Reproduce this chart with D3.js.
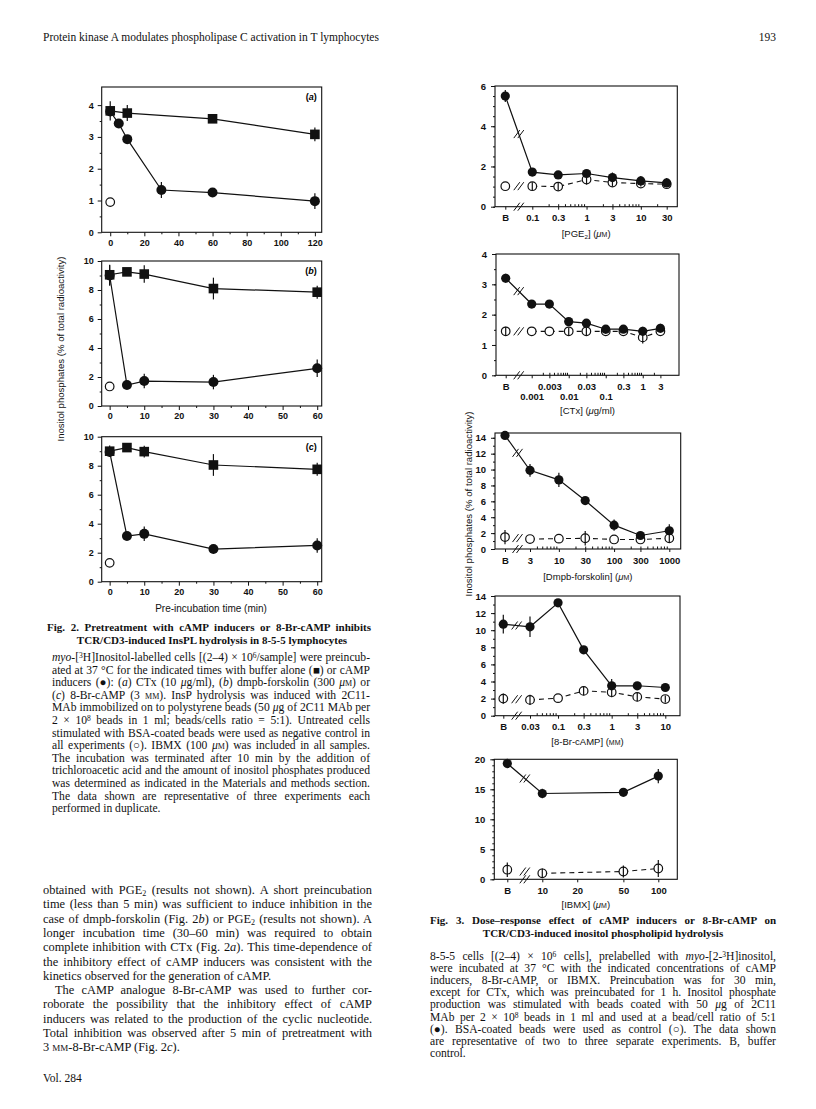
<!DOCTYPE html>
<html>
<head>
<meta charset="utf-8">
<script src="https://cdnjs.cloudflare.com/ajax/libs/d3/7.8.5/d3.min.js"></script>
<style>
  body { margin: 0; background: #fff; }
  svg { display: block; }
</style>
</head>
<body>
<svg id="page" width="816" height="1109"></svg>
<script>
// ---- Fig. 2 data (pre-incubation time, min) ----
const a_bufT = [0, 10, 60, 120];
const a_bufV = [3.82, 3.75, 3.57, 3.08];
const a_bufE = [0.3, 0.25, 0, 0.22];
const a_indT = [0, 5, 10, 30, 60, 120];
const a_indV = [3.8, 3.42, 2.93, 1.33, 1.25, 0.98];
const a_indE = [0, 0, 0, 0.25, 0, 0.25];
const a_ctlV = [0.95];

const b_T = [0, 5, 10, 30, 60];
const b_bufV = [9.05, 9.25, 9.1, 8.1, 7.85];
const b_bufE = [0.7, 0, 0.6, 0.75, 0.45];
const b_indV = [9.0, 1.45, 1.72, 1.65, 2.6];
const b_indE = [0.7, 0, 0.5, 0.5, 0.6];
const b_ctlV = [1.35];

const c_T = [0, 5, 10, 30, 60];
const c_bufV = [9.0, 9.25, 8.97, 8.05, 7.75];
const c_bufE = [0.4, 0, 0.4, 0.75, 0.45];
const c_indV = [8.95, 3.15, 3.3, 2.25, 2.5];
const c_indE = [0, 0, 0.5, 0.3, 0.5];
const c_ctlV = [1.3];

// ---- Fig. 3 data (B = buffer control) ----
const pgeDose = ["B", 0.1, 0.3, 1, 3, 10, 30];
const pgeStim = [5.5, 1.72, 1.58, 1.65, 1.45, 1.28, 1.18];
const pgeStimE = [0.3, 0, 0, 0.1, 0.25, 0.25, 0.25];
const pgeCtl = [1.02, 1.02, 1.0, 1.35, 1.2, 1.15, 1.12];
const pgeCtlE = [0, 0.2, 0.2, 0.25, 0.2, 0.15, 0];
const pgeTicks = ["B", 0.1, 0.3, 1, 3, 10, 30];
const pgeLabels = ["B", "0.1", "0.3", "1", "3", "10", "30"];

const ctxDose = ["B", 0.001, 0.003, 0.01, 0.03, 0.1, 0.3, 1, 3];
const ctxStim = [3.2, 2.35, 2.35, 1.77, 1.72, 1.52, 1.52, 1.45, 1.55];
const ctxStimE = [0.15, 0.1, 0.1, 0.1, 0.08, 0.1, 0.1, 0.15, 0.15];
const ctxCtl = [1.45, 1.45, 1.45, 1.45, 1.45, 1.45, 1.45, 1.25, 1.45];
const ctxCtlE = [0.15, 0, 0, 0.12, 0.12, 0.08, 0, 0.2, 0];
const ctxTicks = ["B", 0.001, 0.003, 0.01, 0.03, 0.1, 0.3, 1, 3];
const ctxLabels = ["B", "0.001", "0.003", "0.01", "0.03", "0.1", "0.3", "1", "3"];
const ctxRows = [0, 1, 0, 1, 0, 1, 0, 0, 0];

const dmpDose = ["B", 3, 10, 30, 100, 300, 1000];
const dmpStim = [14.3, 9.9, 8.7, 6.1, 3.0, 1.7, 2.3];
const dmpStimE = [0, 0.8, 0.9, 0, 0.7, 0, 0.8];
const dmpCtl = [1.5, 1.25, 1.3, 1.35, 1.2, 1.2, 1.35];
const dmpCtlE = [0.9, 0, 0, 0.9, 0, 0, 0.5];
const dmpTicks = ["B", 3, 10, 30, 100, 300, 1000];
const dmpLabels = ["B", "3", "10", "30", "100", "300", "1000"];

const brDose = ["B", 0.03, 0.1, 0.3, 1, 3, 10];
const brStim = [10.7, 10.4, 13.2, 7.7, 3.5, 3.5, 3.3];
const brStimE = [1.1, 1.2, 0, 0.4, 0.8, 0, 0];
const brCtl = [2.0, 1.85, 2.05, 2.9, 2.75, 2.2, 1.95];
const brCtlE = [0.6, 0.6, 0, 0.5, 0.6, 0.5, 0.4];
const brTicks = ["B", 0.03, 0.1, 0.3, 1, 3, 10];
const brLabels = ["B", "0.03", "0.1", "0.3", "1", "3", "10"];

const ibDose = ["B", 10, 50, 100];
const ibStim = [19.3, 14.3, 14.5, 17.2];
const ibStimE = [0.8, 0.8, 0, 1.2];
const ibCtl = [1.6, 1.0, 1.3, 1.8];
const ibCtlE = [1.2, 0.8, 1.0, 1.4];
const ibTicks = ["B", 10, 20, 50, 100];
const ibLabels = ["B", "10", "20", "50", "100"];

// ---- page text ----
const fig2Caption = [
  "*myo*-[^3^H]Inositol-labelled cells [(2–4) × 10^6^/sample] were preincub-",
  "ated at 37 °C for the indicated times with buffer alone (■) or cAMP",
  "inducers (●): (*a*) CTx (10 *μ*g/ml), (*b*) dmpb-forskolin (300 *μ*%m%) or",
  "(*c*) 8-Br-cAMP (3 %mm%). InsP hydrolysis was induced with 2C11-",
  "MAb immobilized on to polystyrene beads (50 *μ*g of 2C11 MAb per",
  "2 × 10^8^ beads in 1 ml; beads/cells ratio = 5:1). Untreated cells",
  "stimulated with BSA-coated beads were used as negative control in",
  "all experiments (○). IBMX (100 *μ*%m%) was included in all samples.",
  "The incubation was terminated after 10 min by the addition of",
  "trichloroacetic acid and the amount of inositol phosphates produced",
  "was determined as indicated in the Materials and methods section.",
  "The data shown are representative of three experiments each",
  "performed in duplicate."
];
const fig3Caption = [
  "8-5-5 cells [(2–4) × 10^6^ cells], prelabelled with *myo*-[2-^3^H]inositol,",
  "were incubated at 37 °C with the indicated concentrations of cAMP",
  "inducers, 8-Br-cAMP, or IBMX. Preincubation was for 30 min,",
  "except for CTx, which was preincubated for 1 h. Inositol phosphate",
  "production was stimulated with beads coated with 50 *μ*g of 2C11",
  "MAb per 2 × 10^8^ beads in 1 ml and used at a bead/cell ratio of 5:1",
  "(●). BSA-coated beads were used as control (○). The data shown",
  "are representative of two to three separate experiments. B, buffer",
  "control."
];
const bodyPara1 = [
  "obtained with PGE~2~ (results not shown). A short preincubation",
  "time (less than 5 min) was sufficient to induce inhibition in the",
  "case of dmpb-forskolin (Fig. 2*b*) or PGE~2~ (results not shown). A",
  "longer incubation time (30–60 min) was required to obtain",
  "complete inhibition with CTx (Fig. 2*a*). This time-dependence of",
  "the inhibitory effect of cAMP inducers was consistent with the",
  "kinetics observed for the generation of cAMP."
];
const bodyPara2 = [
  "The cAMP analogue 8-Br-cAMP was used to further cor-",
  "roborate the possibility that the inhibitory effect of cAMP",
  "inducers was related to the production of the cyclic nucleotide.",
  "Total inhibition was observed after 5 min of pretreatment with",
  "3 %mm%-8-Br-cAMP (Fig. 2*c*)."
];

const serif = "'Liberation Serif','Times New Roman',serif";
const sans = "'Liberation Sans',Arial,Helvetica,sans-serif";
const svg = d3.select("#page");
const intFmt = d3.format("d");

// small markup: *italic*  ^sup^  ~sub~  %smallcaps%
function richText(g, x, y, str, o = {}) {
  const t = g.append("text").attr("x", x).attr("y", y)
    .attr("font-family", o.family || serif)
    .attr("font-size", o.size || 11)
    .attr("fill", "#111");
  if (o.weight) t.attr("font-weight", o.weight);
  if (o.anchor) t.attr("text-anchor", o.anchor);
  str.split(/(\*[^*]+\*|\^[^^]+\^|~[^~]+~|%[^%]+%)/).forEach(part => {
    if (!part) return;
    const s = t.append("tspan"), c = part[0], inner = part.slice(1, -1);
    if (c === "*") s.attr("font-style", "italic").text(inner);
    else if (c === "^") s.attr("baseline-shift", "3.5").attr("font-size", "65%").text(inner);
    else if (c === "~") s.attr("baseline-shift", "-2").attr("font-size", "65%").text(inner);
    else if (c === "%") s.style("font-variant", "small-caps").text(inner);
    else s.text(part);
  });
  if (o.width) {
    // justify by widening the word gaps
    const natural = t.node().getComputedTextLength();
    const gaps = (t.text().match(/ /g) || []).length;
    if (gaps) t.attr("word-spacing", ((o.width - natural) / gaps).toFixed(3));
  }
  return t;
}

function paragraph(lines, x, y0, lh, width, o, indent = 0) {
  lines.forEach((l, i) => {
    const ind = i === 0 ? indent : 0;
    const last = i === lines.length - 1;
    richText(svg, x + ind, y0 + i * lh, l, Object.assign({}, o, { width: last ? null : width - ind }));
  });
}

function breakMark(g, cx, cy) {
  [-2, 2].forEach(off => {
    g.append("line")
      .attr("x1", cx + off - 3).attr("y1", cy + 4)
      .attr("x2", cx + off + 3).attr("y2", cy - 4)
      .attr("stroke", "#111").attr("stroke-width", 1);
  });
}

function styleAxis(sel, size) {
  sel.select(".domain").remove();
  sel.selectAll("line").attr("stroke", "#111");
  sel.selectAll("text").attr("font-family", sans).attr("font-size", size)
    .attr("font-weight", "bold").attr("fill", "#111");
}

function errorBars(g, pts, x, y) {
  g.selectAll(null).data(pts.filter(d => d[2] > 0)).join("line")
    .attr("x1", d => x(d[0])).attr("x2", d => x(d[0]))
    .attr("y1", d => y(d[1] - d[2])).attr("y2", d => y(d[1] + d[2]))
    .attr("stroke", "#111").attr("stroke-width", 1.2);
}

// ---- Fig. 2 panels ----
function fig2Panel(p) {
  const g = svg.append("g");
  const x = d3.scaleLinear().domain(p.xDom).range([p.l, p.r]);
  const y = d3.scaleLinear().domain(p.yDom).range([p.b, p.t]);

  g.append("g").attr("transform", `translate(0,${p.b})`)
    .call(d3.axisBottom(x).tickValues(p.xTicks).tickSize(4).tickPadding(3).tickFormat(intFmt))
    .call(s => styleAxis(s, 9));
  g.append("g").attr("transform", `translate(0,${p.b})`)
    .call(d3.axisBottom(x).tickValues(p.xMinor).tickSize(2).tickFormat(""))
    .call(s => styleAxis(s, 9));
  g.append("g").attr("transform", `translate(${p.l},0)`)
    .call(d3.axisLeft(y).tickValues(p.yTicks).tickSize(4).tickPadding(4).tickFormat(intFmt))
    .call(s => styleAxis(s, 9));
  g.append("g").attr("transform", `translate(${p.l},0)`)
    .call(d3.axisLeft(y).tickValues(p.yMinor).tickSize(2).tickFormat(""))
    .call(s => styleAxis(s, 9));
  g.append("rect").attr("x", p.l).attr("y", p.t)
    .attr("width", p.r - p.l).attr("height", p.b - p.t)
    .attr("fill", "none").attr("stroke", "#111").attr("stroke-width", 1.1);

  const buf = d3.zip(p.bufT, p.bufV, p.bufE);
  const ind = d3.zip(p.indT, p.indV, p.indE);
  const line = d3.line().x(d => x(d[0])).y(d => y(d[1]));
  [buf, ind].forEach(s => g.append("path").attr("d", line(s))
    .attr("fill", "none").attr("stroke", "#111").attr("stroke-width", 1.2));
  errorBars(g, buf, x, y);
  errorBars(g, ind, x, y);
  g.selectAll(null).data(ind).join("circle")
    .attr("cx", d => x(d[0])).attr("cy", d => y(d[1])).attr("r", 5).attr("fill", "#111");
  g.selectAll(null).data(buf).join("rect")
    .attr("x", d => x(d[0]) - 4.8).attr("y", d => y(d[1]) - 4.8)
    .attr("width", 9.6).attr("height", 9.6).attr("fill", "#111");
  g.selectAll(null).data(p.ctlV).join("circle")
    .attr("cx", x(0)).attr("cy", d => y(d)).attr("r", 4.3)
    .attr("fill", "#fff").attr("stroke", "#111").attr("stroke-width", 1.2);

  g.append("text").attr("x", p.r - 5).attr("y", p.t + 13).attr("text-anchor", "end")
    .attr("font-family", sans).attr("font-size", 9).attr("font-weight", "bold")
    .html(`(<tspan font-style="italic">${p.label}</tspan>)`);
}

fig2Panel({ l: 101.7, r: 321.7, t: 87, b: 232.3, xDom: [-5, 124], yDom: [0, 4.57],
  xTicks: d3.range(0, 121, 20), xMinor: d3.range(10, 121, 20),
  yTicks: d3.range(0, 5, 1), yMinor: d3.range(0.5, 4.5, 1),
  bufT: a_bufT, bufV: a_bufV, bufE: a_bufE, indT: a_indT, indV: a_indV, indE: a_indE,
  ctlV: a_ctlV, label: "a" });
fig2Panel({ l: 101.7, r: 321.7, t: 261, b: 406, xDom: [-2.3, 61.3], yDom: [0, 10],
  xTicks: d3.range(0, 61, 10), xMinor: d3.range(5, 61, 10),
  yTicks: d3.range(0, 11, 2), yMinor: d3.range(1, 10, 2),
  bufT: b_T, bufV: b_bufV, bufE: b_bufE, indT: b_T, indV: b_indV, indE: b_indE,
  ctlV: b_ctlV, label: "b" });
fig2Panel({ l: 101.7, r: 321.7, t: 436.7, b: 581.7, xDom: [-2.3, 61.3], yDom: [0, 10],
  xTicks: d3.range(0, 61, 10), xMinor: d3.range(5, 61, 10),
  yTicks: d3.range(0, 11, 2), yMinor: d3.range(1, 10, 2),
  bufT: c_T, bufV: c_bufV, bufE: c_bufE, indT: c_T, indV: c_indV, indE: c_indE,
  ctlV: c_ctlV, label: "c" });

svg.append("text").attr("x", 211).attr("y", 612).attr("text-anchor", "middle")
  .attr("font-family", sans).attr("font-size", 10).attr("fill", "#111")
  .text("Pre-incubation time (min)");
svg.append("text").attr("transform", "translate(64,349) rotate(-90)").attr("text-anchor", "middle")
  .attr("font-family", sans).attr("font-size", 9.6).attr("fill", "#111")
  .text("Inositol phosphates (% of total radioactivity)");

// ---- Fig. 3 panels ----
function fig3Panel(p) {
  const g = svg.append("g");
  const d0 = p.dose[1], dN = p.dose[p.dose.length - 1];
  const x = d3.scaleLog().domain([d0, dN]).range([p.x0, p.x1]);
  const bVal = x.invert(x(d0) - p.gap);
  const xv = d => (d === "B" ? bVal : d);
  const y = d3.scaleLinear().domain(p.yDom).range([p.b, p.t]);

  const ax = g.append("g").attr("transform", `translate(0,${p.b})`)
    .call(d3.axisBottom(x).tickValues(p.ticks.map(xv)).tickSize(3).tickPadding(5)
      .tickFormat((d, i) => p.labels[i]))
    .call(s => styleAxis(s, 9.5));
  if (p.rows) ax.selectAll(".tick text").attr("dy", (d, i) => p.rows[i] ? "1.75em" : "0.71em");
  if (p.minor) {
    const mv = [];
    for (let k = Math.floor(Math.log10(d0)); k <= Math.ceil(Math.log10(dN)); k++)
      for (let m = 2; m <= 9; m++) { const v = m * Math.pow(10, k); if (v > d0 && v < dN) mv.push(v); }
    g.append("g").attr("transform", `translate(0,${p.b})`)
      .call(d3.axisBottom(x).tickValues(mv).tickSize(-2.5).tickFormat(""))
      .call(s => styleAxis(s, 9));
  }
  g.append("g").attr("transform", `translate(${p.l},0)`)
    .call(d3.axisLeft(y).tickValues(d3.range(p.yDom[0], p.yMax + 0.001, p.yStep))
      .tickSize(4).tickPadding(5).tickFormat(intFmt))
    .call(s => styleAxis(s, 9.5));
  g.append("g").attr("transform", `translate(${p.l},0)`)
    .call(d3.axisLeft(y).tickValues(d3.range(p.yDom[0], p.yMax + 0.001, p.yMinor)).tickSize(2).tickFormat(""))
    .call(s => styleAxis(s, 9));
  g.append("rect").attr("x", p.l).attr("y", p.t)
    .attr("width", p.r - p.l).attr("height", p.b - p.t)
    .attr("fill", "none").attr("stroke", "#111").attr("stroke-width", 1.1);

  const stim = d3.zip(p.dose.map(xv), p.stim, p.stimE);
  const ctl = d3.zip(p.dose.map(xv), p.ctl, p.ctlE);
  const line = d3.line().x(d => x(d[0])).y(d => y(d[1]));
  g.append("path").attr("d", line(stim)).attr("fill", "none")
    .attr("stroke", "#111").attr("stroke-width", 1.2);
  g.append("path").attr("d", line(ctl.slice(1))).attr("fill", "none")
    .attr("stroke", "#111").attr("stroke-width", 1.1).attr("stroke-dasharray", "5,4");

  const xm = (x(stim[0][0]) + x(stim[1][0])) / 2;
  breakMark(g, xm, (y(stim[0][1]) + y(stim[1][1])) / 2);
  breakMark(g, xm, (y(ctl[0][1]) + y(ctl[1][1])) / 2);
  breakMark(g, xm, p.b);

  errorBars(g, stim, x, y);
  g.selectAll(null).data(ctl).join("circle")
    .attr("cx", d => x(d[0])).attr("cy", d => y(d[1])).attr("r", 4.3)
    .attr("fill", "#fff").attr("stroke", "#111").attr("stroke-width", 1.2);
  errorBars(g, ctl, x, y);
  g.selectAll(null).data(stim).join("circle")
    .attr("cx", d => x(d[0])).attr("cy", d => y(d[1])).attr("r", 4.6).attr("fill", "#111");

  richText(g, (p.l + p.r) / 2, p.b + p.titleDy, p.title,
    { family: sans, size: 9.5, anchor: "middle" });
}

fig3Panel({ l: 495, r: 677.3, t: 86, b: 206.7, x0: 532.3, x1: 666.7, gap: 27,
  yDom: [0, 6], yMax: 6, yStep: 2, yMinor: 0.5, minor: true,
  dose: pgeDose, stim: pgeStim, stimE: pgeStimE, ctl: pgeCtl, ctlE: pgeCtlE,
  ticks: pgeTicks, labels: pgeLabels, titleDy: 30.5, title: "[PGE~2~] (*μ*%m%)" });
fig3Panel({ l: 496, r: 679, t: 254, b: 375.3, x0: 531.7, x1: 660.4, gap: 26,
  yDom: [0, 4], yMax: 4, yStep: 1, yMinor: 0.5, minor: true,
  dose: ctxDose, stim: ctxStim, stimE: ctxStimE, ctl: ctxCtl, ctlE: ctxCtlE,
  ticks: ctxTicks, labels: ctxLabels, rows: ctxRows, titleDy: 39, title: "[CTx] (*μ*g/ml)" });
fig3Panel({ l: 495, r: 680.7, t: 433, b: 549, x0: 530, x1: 669.3, gap: 25,
  yDom: [0, 14.6], yMax: 14, yStep: 2, yMinor: 1, minor: true,
  dose: dmpDose, stim: dmpStim, stimE: dmpStimE, ctl: dmpCtl, ctlE: dmpCtlE,
  ticks: dmpTicks, labels: dmpLabels, titleDy: 31, title: "[Dmpb-forskolin] (*μ*%m%)" });
fig3Panel({ l: 495, r: 680, t: 596, b: 715.7, x0: 530, x1: 665.3, gap: 26.7,
  yDom: [0, 14], yMax: 14, yStep: 2, yMinor: 1, minor: true,
  dose: brDose, stim: brStim, stimE: brStimE, ctl: brCtl, ctlE: brCtlE,
  ticks: brTicks, labels: brLabels, titleDy: 29, title: "[8-Br-cAMP] (%mm%)" });
fig3Panel({ l: 494.3, r: 677.3, t: 759.3, b: 879.3, x0: 542.3, x1: 658.3, gap: 35,
  yDom: [0, 20], yMax: 20, yStep: 5, yMinor: 1, minor: false,
  dose: ibDose, stim: ibStim, stimE: ibStimE, ctl: ibCtl, ctlE: ibCtlE,
  ticks: ibTicks, labels: ibLabels, titleDy: 29, title: "[IBMX] (*μ*%m%)" });

svg.append("text").attr("transform", "translate(472,504) rotate(-90)").attr("text-anchor", "middle")
  .attr("font-family", sans).attr("font-size", 9.6).attr("fill", "#111")
  .text("Inositol phosphates (% of total radioactivity)");

// ---- running head ----
richText(svg, 43, 41, "Protein kinase A modulates phospholipase C activation in T lymphocytes", { size: 11.5 });
richText(svg, 776, 41, "193", { size: 11.5, anchor: "end" });
richText(svg, 43, 1082, "Vol. 284", { size: 11.5 });

// ---- Fig. 2 legend ----
richText(svg, 47, 631, "Fig. 2. Pretreatment with cAMP inducers or 8-Br-cAMP inhibits",
  { size: 11, weight: "bold", width: 324 });
richText(svg, 212, 644, "TCR/CD3-induced InsPL hydrolysis in 8-5-5 lymphocytes",
  { size: 11, weight: "bold", anchor: "middle" });
paragraph(fig2Caption, 52, 661, 12.6, 318, { size: 11.6 });

// ---- Fig. 3 legend ----
richText(svg, 430, 924, "Fig. 3. Dose–response effect of cAMP inducers or 8-Br-cAMP on",
  { size: 11, weight: "bold", width: 346 });
richText(svg, 603, 937, "TCR/CD3-induced inositol phospholipid hydrolysis",
  { size: 11, weight: "bold", anchor: "middle" });
paragraph(fig3Caption, 430, 959.5, 12.2, 346, { size: 11.6 });

// ---- body text ----
paragraph(bodyPara1, 43, 894, 14.3, 329, { size: 12.4 });
paragraph(bodyPara2, 43, 894 + 7 * 14.3, 14.3, 329, { size: 12.4 }, 12);
</script>
</body>
</html>
